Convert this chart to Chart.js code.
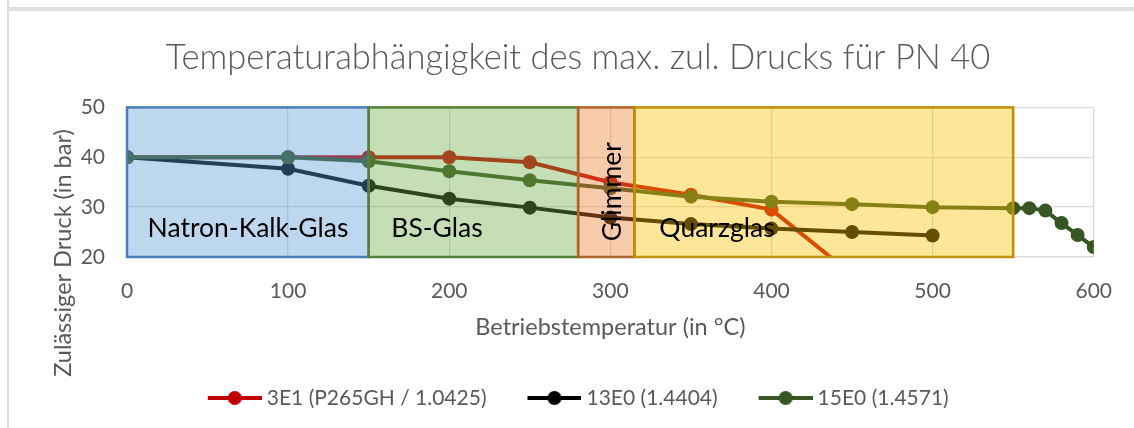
<!DOCTYPE html>
<html>
<head>
<meta charset="utf-8">
<script src="https://cdn.jsdelivr.net/npm/chart.js@4.4.1/dist/chart.umd.min.js"></script>
<style>
  html, body { margin: 0; padding: 0; background: #fff; }
  #wrap { position: relative; width: 1134px; height: 428px; overflow: hidden; }
  #frameTop { position: absolute; left: 7px; right: 0; top: 7px; height: 4px; background: #dedede; }
  #frameLeft { position: absolute; left: 7px; top: 0; bottom: 0; width: 2px; background: #dcdcdc; }
  canvas { position: absolute; left: 0; top: 0; }
</style>
</head>
<body>
<div id="wrap">
  <div id="frameTop"></div>
  <div id="frameLeft"></div>
  <canvas id="chart" width="1134" height="428"></canvas>
</div>
<script>
// Werte
const temps3E1 = [0, 100, 150, 200, 250, 300, 350, 400, 450];
const druck3E1 = [40, 40, 40, 40, 39, 35, 32.5, 29.5, 16.5];

const temps13E0 = [0, 100, 150, 200, 250, 300, 350, 400, 450, 500];
const druck13E0 = [40, 37.7, 34.3, 31.7, 29.9, 27.9, 26.6, 25.7, 25.0, 24.3];

const temps15E0 = [0, 100, 150, 200, 250, 300, 350, 400, 450, 500, 550, 560, 570, 580, 590, 600];
const druck15E0 = [40, 40, 39.2, 37.2, 35.4, 33.8, 32.1, 31.1, 30.6, 30.0, 29.8, 29.8, 29.3, 26.8, 24.4, 22.0];

const seriesNames = ["3E1 (P265GH / 1.0425)", "13E0 (1.4404)", "15E0 (1.4571)"];

// Glasbereiche (Temperaturgrenzen)
const regionNames = ["Natron-Kalk-Glas", "BS-Glas", "Glimmer", "Quarzglas"];
const regionFrom = [0, 150, 280, 315];
const regionTo = [150, 280, 315, 550];

const xTicks = [0, 100, 200, 300, 400, 500, 600];
const yTicks = [20, 30, 40, 50];

const FONT = "Lato, 'Open Sans', sans-serif";
const GREY = "#595959";
const lineColors = ["#C00000", "#000000", "#375623"];
const regionFill = ["rgba(91,155,213,0.4)", "rgba(112,173,71,0.4)", "rgba(237,125,49,0.4)", "rgba(255,192,0,0.4)"];
const regionBorder = ["#4A7EBB", "#538135", "#B2652A", "#C09000"];

function toPoints(xs, ys) {
  return xs.map((x, i) => ({ x, y: ys[i] }));
}

// Legendensymbol: Linie mit Kreis, etwas nach rechts versetzt
function legendIcon(color) {
  const c = document.createElement("canvas");
  c.width = 70;
  c.height = 16;
  const g = c.getContext("2d");
  g.strokeStyle = color;
  g.lineWidth = 4;
  g.beginPath();
  g.moveTo(16, 8);
  g.lineTo(70, 8);
  g.stroke();
  g.fillStyle = color;
  g.beginPath();
  g.arc(43, 8, 7, 0, Math.PI * 2);
  g.fill();
  return c;
}

function makeDataset(i, pts, order) {
  return {
    label: seriesNames[i],
    data: pts,
    borderColor: lineColors[i],
    backgroundColor: lineColors[i],
    borderWidth: 4,
    pointRadius: 7,
    pointHoverRadius: 7,
    pointBorderWidth: 0,
    tension: 0,
    order
  };
}

const regionPlugin = {
  id: "regions",
  afterLayout(chart) {
    // Titel und Legende wie im Original leicht nach rechts versetzt
    chart.titleBlock.left += 29.5;
    chart.titleBlock.right += 29.5;
    chart.legend.left += 24.5;
    chart.legend.right += 24.5;
  },
  afterDatasetsDraw(chart) {
    const { ctx, scales } = chart;
    const x = scales.x, y = scales.y;
    const top = y.getPixelForValue(50), bottom = y.getPixelForValue(20);
    ctx.save();
    regionNames.forEach((name, i) => {
      const l = x.getPixelForValue(regionFrom[i]);
      const r = x.getPixelForValue(regionTo[i]);
      ctx.fillStyle = regionFill[i];
      ctx.fillRect(l, top, r - l, bottom - top);
      ctx.strokeStyle = regionBorder[i];
      ctx.lineWidth = 2.5;
      ctx.strokeRect(l, top, r - l, bottom - top);
    });
    ctx.fillStyle = "#000";
    ctx.font = "26.5px " + FONT;
    ctx.textBaseline = "middle";
    ctx.textAlign = "center";
    const ly = y.getPixelForValue(25.7);
    ctx.fillText(regionNames[0], 248, ly);
    ctx.fillText(regionNames[1], 437, ly);
    ctx.fillText(regionNames[3], 717, ly);
    ctx.save();
    ctx.translate(612, y.getPixelForValue(33.1));
    ctx.rotate(-Math.PI / 2);
    ctx.fillText(regionNames[2], 0, 0);
    ctx.restore();
    ctx.restore();
  },
  afterDraw(chart) {
    const { ctx } = chart;
    ctx.save();
    ctx.fillStyle = GREY;
    ctx.font = "23.5px " + FONT;
    ctx.textAlign = "center";
    ctx.textBaseline = "middle";
    ctx.translate(63, 253);
    ctx.rotate(-Math.PI / 2);
    ctx.fillText("Zulässiger Druck (in bar)", 0, 0);
    ctx.restore();
  }
};

new Chart(document.getElementById("chart"), {
  type: "line",
  data: {
    datasets: [
      makeDataset(0, toPoints(temps3E1, druck3E1), 3),
      makeDataset(1, toPoints(temps13E0, druck13E0), 2),
      makeDataset(2, toPoints(temps15E0, druck15E0), 1)
    ]
  },
  options: {
    responsive: false,
    animation: false,
    events: [],
    layout: { padding: { left: 0, right: 37, top: 0, bottom: 9.5 } },
    scales: {
      x: {
        type: "linear",
        min: 0,
        max: 600,
        afterBuildTicks: s => { s.ticks = xTicks.map(v => ({ value: v })); },
        afterFit: s => { s.height = 100; },
        grid: { color: "#D9D9D9", lineWidth: 1.3, drawTicks: false },
        border: { color: "#D9D9D9", width: 1.3 },
        ticks: { color: GREY, font: { family: FONT, size: 21 }, padding: 22, maxRotation: 0 },
        title: {
          display: true,
          text: "Betriebstemperatur (in °C)",
          color: GREY,
          font: { family: FONT, size: 23.5 },
          padding: { top: 0, bottom: 15 }
        }
      },
      y: {
        min: 20,
        max: 50,
        afterBuildTicks: s => { s.ticks = yTicks.map(v => ({ value: v })); },
        afterFit: s => { s.width = 127; },
        grid: { color: "#D9D9D9", lineWidth: 1.3, drawTicks: false },
        border: { display: false },
        ticks: { color: GREY, font: { family: FONT, size: 21 }, padding: 22 }
      }
    },
    plugins: {
      title: {
        display: true,
        text: "Temperaturabhängigkeit des max. zul. Drucks für PN 40",
        color: GREY,
        font: { family: FONT, size: 34.5, weight: "300" },
        padding: { top: 37, bottom: 29 }
      },
      legend: {
        position: "bottom",
        labels: {
          color: GREY,
          font: { family: FONT, size: 21 },
          usePointStyle: true,
          pointStyleWidth: 59,
          padding: 30.5,
          generateLabels: chart => chart.data.datasets.map((ds, i) => ({
            text: ds.label,
            fontColor: GREY,
            pointStyle: legendIcon(lineColors[i]),
            strokeStyle: lineColors[i],
            fillStyle: lineColors[i],
            lineWidth: 0,
            hidden: false,
            datasetIndex: i
          }))
        }
      },
      tooltip: { enabled: false }
    }
  },
  plugins: [regionPlugin]
});
</script>
</body>
</html>
